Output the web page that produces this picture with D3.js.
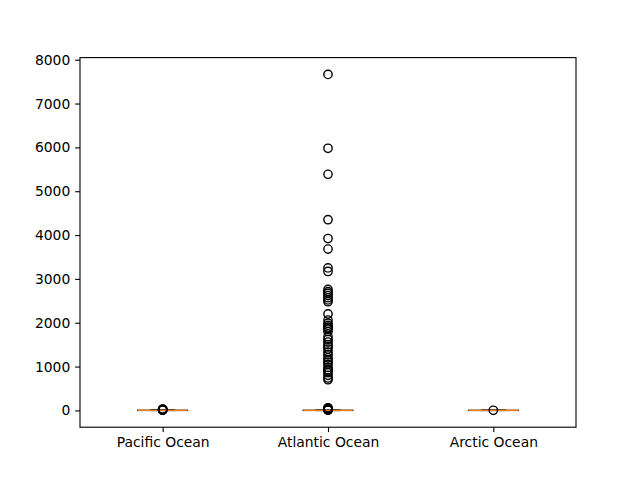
<!DOCTYPE html>
<html>
<head>
<meta charset="utf-8">
<script src="https://cdn.jsdelivr.net/npm/d3@7"></script>
<style>
  html, body { margin: 0; padding: 0; background: #fff; }
  svg { display: block; }
  text { font-family: "DejaVu Sans", sans-serif; }
</style>
</head>
<body>
<svg id="chart" width="640" height="480"></svg>
<script>
// ---- data ----
const categories = ["Pacific Ocean", "Atlantic Ocean", "Arctic Ocean"];
const q1 = [0, 0, 0];
const medians = [0, 0, 0];
const q3 = [2, 2, 1];
const whiskerLow = [0, 0, 0];
const whiskerHigh = [5, 5, 2];
const fliersPacific = [5, 8, 10, 12, 15, 18, 20, 25, 30];
const fliersAtlantic = [
  7665, 5980, 5385, 4350, 3920, 3680, 3250, 3170,
  2760, 2710, 2670, 2620, 2570, 2520, 2480, 2200, 2060,
  1990, 1940, 1900, 1880, 1850, 1800, 1680, 1620, 1560, 1500,
  1450, 1400, 1330, 1270, 1200, 1150, 1100, 1050, 980, 930,
  900, 860, 800, 740, 700,
  6, 10, 15, 20, 30, 40, 50, 60
];
const fliersArctic = [3];
const fliers = [fliersPacific, fliersAtlantic, fliersArctic];
const yTicks = [0, 1000, 2000, 3000, 4000, 5000, 6000, 7000, 8000];

// ---- layout ----
const svg = d3.select("#chart");
const L = 80, R = 576, T = 57.6, B = 427.2;
const fontPx = 13.89;

const allVals = [].concat(...fliers, whiskerLow, whiskerHigh);
const dmin = d3.min(allVals), dmax = d3.max(allVals);
const pad = (dmax - dmin) * 0.05;
const y = d3.scaleLinear().domain([dmin - pad, dmax + pad]).range([B, T]);
const x = d3.scaleLinear().domain([0.5, 3.5]).range([L, R]);
const boxW = 0.3; // in data units
const lw = 1.39;

const g = svg.append("g");

categories.forEach((c, i) => {
  const pos = i + 1;
  const xl = x(pos - boxW / 2), xr = x(pos + boxW / 2);
  const cl = x(pos - boxW / 4), cr = x(pos + boxW / 4);
  // whiskers
  g.append("line").attr("x1", x(pos)).attr("x2", x(pos))
    .attr("y1", y(q1[i])).attr("y2", y(whiskerLow[i]))
    .attr("stroke", "#000").attr("stroke-width", lw);
  g.append("line").attr("x1", x(pos)).attr("x2", x(pos))
    .attr("y1", y(q3[i])).attr("y2", y(whiskerHigh[i]))
    .attr("stroke", "#000").attr("stroke-width", lw);
  // caps
  [whiskerLow[i], whiskerHigh[i]].forEach(v => {
    g.append("line").attr("x1", cl).attr("x2", cr)
      .attr("y1", y(v)).attr("y2", y(v))
      .attr("stroke", "#000").attr("stroke-width", lw);
  });
  // box
  g.append("rect").attr("x", xl).attr("y", y(q3[i]))
    .attr("width", xr - xl).attr("height", Math.max(0, y(q1[i]) - y(q3[i])))
    .attr("fill", "none").attr("stroke", "#000").attr("stroke-width", lw);
  // median
  g.append("line").attr("x1", xl).attr("x2", xr)
    .attr("y1", y(medians[i])).attr("y2", y(medians[i]))
    .attr("stroke", "#ff7f0e").attr("stroke-width", lw);
  // fliers
  g.selectAll(null).data(fliers[i]).enter().append("circle")
    .attr("cx", x(pos)).attr("cy", d => y(d)).attr("r", 4.17)
    .attr("fill", "none").attr("stroke", "#000").attr("stroke-width", lw);
});

// axes
const yAxis = d3.axisLeft(y).tickValues(yTicks).tickFormat(d3.format("d"))
  .tickSizeInner(4.86).tickSizeOuter(0).tickPadding(4.86);
const ya = svg.append("g").attr("transform", `translate(${L},0)`).call(yAxis);
const xAxis = d3.axisBottom(x).tickValues([1, 2, 3]).tickFormat((d, i) => categories[i])
  .tickSizeInner(4.86).tickSizeOuter(0).tickPadding(4.86);
const xa = svg.append("g").attr("transform", `translate(0,${B})`).call(xAxis);
[ya, xa].forEach(a => {
  a.select(".domain").remove();
  a.selectAll(".tick line").attr("stroke", "#000").attr("stroke-width", 1.11);
  a.selectAll(".tick text").attr("fill", "#000")
    .style("font-size", fontPx + "px").style("font-family", "DejaVu Sans");
});

// frame
svg.append("rect").attr("x", L).attr("y", T).attr("width", R - L).attr("height", B - T)
  .attr("fill", "none").attr("stroke", "#000").attr("stroke-width", 1.11);
</script>
</body>
</html>
